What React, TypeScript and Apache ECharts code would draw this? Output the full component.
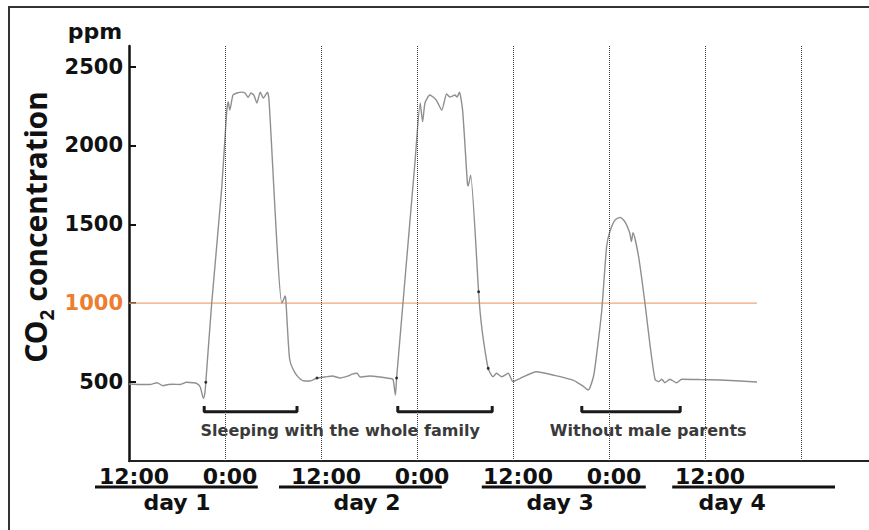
import React, { useEffect, useRef } from "react";
import * as echarts from "echarts";

// time in hours from 12:00 of day 1, CO2 in ppm
const hours = [
  0, 1.4, 2.6, 3.5, 4.25, 4.9, 5.5, 6.4, 7.2, 8.0, 8.45, 8.9, 9.3, 9.5, 9.6,
  10.34, 11.6, 12.2, 12.4, 12.6, 13.0, 13.5, 14.1, 14.5, 14.9, 15.25, 15.6, 16.0, 16.4, 16.8, 17.3, 17.5,
  19.1, 19.3, 19.5, 19.6, 19.8, 20.1, 20.75, 21.4, 22.0, 22.6, 23.5, 24.5, 25.4, 26.4, 27.4, 27.9, 28.5,
  28.9, 30.1, 31.4, 32.6, 33.0, 33.3, 33.45,
  35.75, 36.4, 36.7, 37.0, 37.6, 38.4, 39.1, 39.7, 40.1, 40.75, 41.0, 41.3, 41.7, 42.3, 42.4, 42.7,
  43.7, 43.9, 44.3, 44.9, 45.5, 45.95, 46.6, 47.4, 48.0, 48.9, 50.95, 53.0, 55.5, 56.75, 57.4, 57.6,
  58.1, 58.6, 59.1, 59.7, 60.1, 60.75, 61.4, 62.0, 62.6, 62.8, 63.0, 63.7, 64.5, 65.1, 65.75, 66.2,
  66.6, 67.0, 67.6, 68.45, 69.1, 71.4, 73.9, 76.4, 78.5,
];
const ppm = [
  488, 485, 485, 496, 477, 485, 486, 485, 499, 496, 492, 469, 397, 437, 499,
  1001, 1736, 2205, 2277, 2224, 2319, 2332, 2338, 2332, 2305, 2332, 2319, 2269, 2338, 2300, 2338, 2288,
  1001, 1020, 1046, 1025, 851, 640, 558, 520, 507, 507, 526, 532, 539, 526, 539, 551, 556,
  532, 539, 532, 523, 518, 418, 526,
  1895, 2269, 2150, 2269, 2319, 2288, 2224, 2326, 2307, 2319, 2307, 2337, 2224, 1760, 1743, 1812,
  1073, 938, 767, 587, 534, 556, 534, 556, 503, 524, 566, 545, 513, 475, 450, 462,
  545, 735, 957, 1358, 1453, 1527, 1544, 1516, 1443, 1390, 1447, 1295, 999, 746, 518, 503,
  518, 496, 518, 496, 518, 516, 513, 507, 501,
];

const dotHours = [9.6, 23.5, 33.45, 43.7, 44.9];
const dotPpm = [499, 526, 526, 1073, 587];

const yTicks = [500, 1000, 1500, 2000, 2500];
const yMax = 2630;
const xMax = 92.5;
const timeTickHours = [0, 12, 24, 36, 48, 60, 72];
const timeTickLabels = ["12:00", "0:00", "12:00", "0:00", "12:00", "0:00", "12:00"];
const boundaryHours = [12, 24, 36, 48, 60, 72, 84];

const dayNames = ["day 1", "day 2", "day 3", "day 4"];
const dayLabelHours = [6, 29.75, 53.9, 75.4];
const daySpanStart = [-4.25, 18.75, 44.1, 67.9];
const daySpanEnd = [16.1, 39.1, 64.6, 88.25];

const bracketStart = [9.4, 33.6, 56.6];
const bracketEnd = [21, 45.4, 68.9];
const bracketLevel = 312;
const bracketTip = 348;

const annotationTexts = ["Sleeping with the whole family", "Without male parents"];
const annotationHours = [26.4, 64.9];
const annotationPpm = 196;

const guidelineValue = 1000;
const guidelineEndHour = 78.5;

const FONT = "DejaVu Sans";

export default function App() {
  const ref = useRef<HTMLDivElement>(null);

  useEffect(() => {
    if (!ref.current) return;
    const chart = echarts.init(ref.current, null, { renderer: "svg" });

    const bracketSeries = bracketStart.map((s, i) => ({
      type: "line",
      data: [
        [s, bracketTip],
        [s, bracketLevel],
        [bracketEnd[i], bracketLevel],
        [bracketEnd[i], bracketTip],
      ],
      showSymbol: false,
      silent: true,
      lineStyle: { color: "#1a1a1a", width: 3 },
      z: 3,
    }));

    chart.setOption({
      animation: false,
      grid: { left: 129, top: 46, width: 740, height: 415, containLabel: false },
      xAxis: {
        type: "value",
        min: 0,
        max: xMax,
        axisLine: { show: true, lineStyle: { color: "#222", width: 2 } },
        axisTick: { show: false },
        splitLine: { show: false },
        axisLabel: {
          show: true,
          customValues: timeTickHours,
          formatter: (v: number) => {
            const i = timeTickHours.indexOf(v);
            return i >= 0 ? timeTickLabels[i] : "";
          },
          fontFamily: FONT,
          fontWeight: "bold",
          fontSize: 22,
          color: "#111",
          margin: 4,
          padding: [0, 0, 0, 10],
        },
      },
      yAxis: {
        type: "value",
        min: 0,
        max: yMax,
        axisLine: { show: true, lineStyle: { color: "#111", width: 2.5 } },
        axisTick: {
          show: true,
          inside: true,
          length: 7,
          customValues: yTicks,
          lineStyle: { color: "#111", width: 2 },
        },
        splitLine: { show: false },
        axisLabel: {
          show: true,
          customValues: yTicks,
          margin: 6,
          formatter: (v: number) => (v === guidelineValue ? "{o|" + v + "}" : "{k|" + v + "}"),
          rich: {
            k: { fontFamily: FONT, fontWeight: "bold", fontSize: 21, color: "#111" },
            o: { fontFamily: FONT, fontWeight: "bold", fontSize: 21, color: "#ED7D31" },
          },
        },
      },
      series: [
        {
          type: "line",
          data: [
            [0, guidelineValue],
            [guidelineEndHour, guidelineValue],
          ],
          showSymbol: false,
          silent: true,
          lineStyle: { color: "#F2A775", width: 1.2 },
          z: 1,
        },
        {
          type: "line",
          data: hours.map((h, i) => [h, ppm[i]]),
          showSymbol: false,
          smooth: 0.2,
          lineStyle: { color: "#8f8f8f", width: 1.4 },
          z: 2,
          markLine: {
            silent: true,
            symbol: "none",
            label: { show: false },
            lineStyle: { type: "dotted", color: "#444", width: 1 },
            data: boundaryHours.map((h) => ({ xAxis: h })),
          },
        },
        {
          type: "scatter",
          data: dotHours.map((h, i) => [h, dotPpm[i]]),
          symbolSize: 3,
          itemStyle: { color: "#111" },
          silent: true,
          z: 4,
        },
        ...bracketSeries,
      ],
    });

    const px = (h: number, v: number) => chart.convertToPixel({ gridIndex: 0 }, [h, v]) as number[];

    const graphics: any[] = [
      {
        type: "rect",
        shape: { x: 9, y: 7, width: 900, height: 600 },
        style: { fill: "none", stroke: "#333", lineWidth: 2 },
        silent: true,
      },
      {
        type: "text",
        x: 95,
        y: 31,
        style: {
          text: "ppm",
          fontFamily: FONT,
          fontWeight: "bold",
          fontSize: 22,
          fill: "#111",
          align: "center",
          verticalAlign: "middle",
        },
      },
      {
        type: "text",
        x: 33,
        y: 227,
        rotation: Math.PI / 2,
        style: {
          text: "{a|CO}{s|2}{a| concentration}",
          align: "center",
          verticalAlign: "middle",
          rich: {
            a: { fontFamily: "Noto Sans", fontWeight: "bold", fontSize: 30, fill: "#111", lineHeight: 34, verticalAlign: "bottom" },
            s: { fontFamily: "Noto Sans", fontWeight: "bold", fontSize: 19, fill: "#111", lineHeight: 34, verticalAlign: "bottom", padding: [0, 0, -6, 0] },
          },
        },
      },
    ];

    dayNames.forEach((name, i) => {
      const a = px(daySpanStart[i], 0);
      const b = px(daySpanEnd[i], 0);
      const c = px(dayLabelHours[i], 0);
      graphics.push({
        type: "line",
        shape: { x1: a[0], y1: 487, x2: b[0], y2: 487 },
        style: { stroke: "#111", lineWidth: 3 },
        silent: true,
      });
      graphics.push({
        type: "text",
        x: c[0],
        y: 502,
        style: {
          text: name,
          fontFamily: FONT,
          fontWeight: "bold",
          fontSize: 22,
          fill: "#111",
          align: "center",
          verticalAlign: "middle",
        },
      });
    });

    annotationTexts.forEach((t, i) => {
      const p = px(annotationHours[i], annotationPpm);
      graphics.push({
        type: "text",
        x: p[0],
        y: p[1],
        style: {
          text: t,
          fontFamily: FONT,
          fontWeight: "bold",
          fontSize: 16,
          fill: "#3a3a3a",
          align: "center",
          verticalAlign: "middle",
        },
      });
    });

    chart.setOption({ graphic: graphics });

    return () => chart.dispose();
  }, []);

  return (
    <div
      ref={ref}
      style={{ position: "fixed", left: 0, top: 0, width: 869, height: 530, background: "#fff" }}
    />
  );
}
